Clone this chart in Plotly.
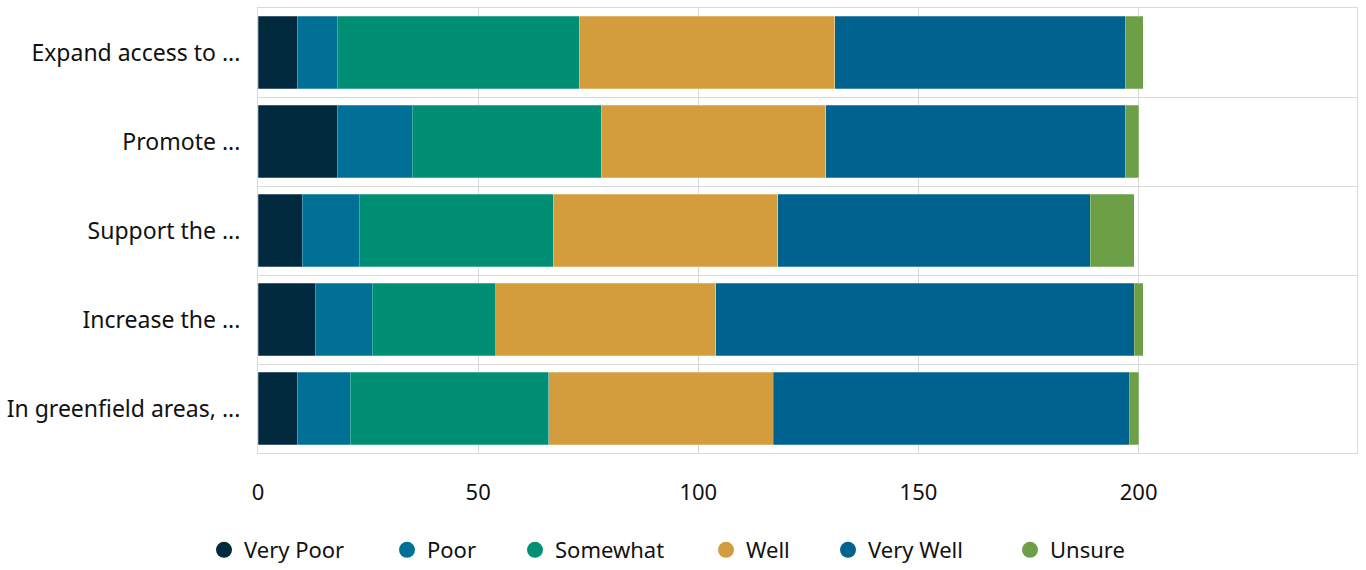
import plotly.graph_objects as go

categories = ["Expand access to ...", "Promote ...", "Support the ...", "Increase the ...", "In greenfield areas, ..."]
series_names = ["Very Poor", "Poor", "Somewhat", "Well", "Very Well", "Unsure"]
very_poor = [9, 18, 10, 13, 9]
poor = [9, 17, 13, 13, 12]
somewhat = [55, 43, 44, 28, 45]
well = [58, 51, 51, 50, 51]
very_well = [66, 68, 71, 95, 81]
unsure = [4, 3, 10, 2, 2]
colors = ["#012A3E", "#017096", "#008F74", "#D39C3D", "#00638F", "#6DA046"]
x_ticks = [0, 50, 100, 150, 200]

# horizontal positions (px) of each legend entry's left edge
legend_x = [204, 387, 515, 706, 828, 1010]

values = [very_poor, poor, somewhat, well, very_well, unsure]

fig = go.Figure()
for name, vals, col in zip(series_names, values, colors):
    fig.add_trace(go.Bar(
        y=categories, x=vals, orientation="h", name=name,
        marker=dict(color=col, line=dict(color="rgba(255,255,255,0.5)", width=0.5)),
        showlegend=False,
    ))

legend_layouts = {}
for i, (name, col) in enumerate(zip(series_names, colors)):
    key = "legend" if i == 0 else f"legend{i + 1}"
    fig.add_trace(go.Scatter(
        x=[None], y=[None], mode="markers", name=name, legend=key,
        marker=dict(color=col, size=22, symbol="circle"),
    ))
    legend_layouts[key] = dict(
        orientation="h", xref="container", yref="container",
        x=legend_x[i] / 1366, xanchor="left", y=0.035, yanchor="middle",
        font=dict(size=22), itemsizing="trace", bgcolor="rgba(0,0,0,0)",
    )

fig.update_layout(
    width=1366, height=570,
    margin=dict(l=258, r=9, t=8, b=117),
    barmode="stack", bargap=0.19,
    plot_bgcolor="white", paper_bgcolor="white",
    font=dict(family="Noto Sans, Open Sans, sans-serif", size=22, color="#111111"),
    **legend_layouts,
)
fig.update_xaxes(
    range=[0, 249.6], tickvals=x_ticks, showgrid=True, gridcolor="#D9D9D9", gridwidth=1,
    showline=True, linecolor="#D9D9D9", mirror=True, zeroline=False,
    ticks="", ticklabelstandoff=20, fixedrange=True,
)
fig.update_yaxes(
    autorange="reversed", type="category", tickson="boundaries",
    showgrid=True, gridcolor="#D9D9D9", gridwidth=1,
    showline=True, linecolor="#D9D9D9", mirror=True, automargin=False,
    ticks="", ticklabelstandoff=12, tickfont=dict(size=23),
)

fig.write_html("out.html")
